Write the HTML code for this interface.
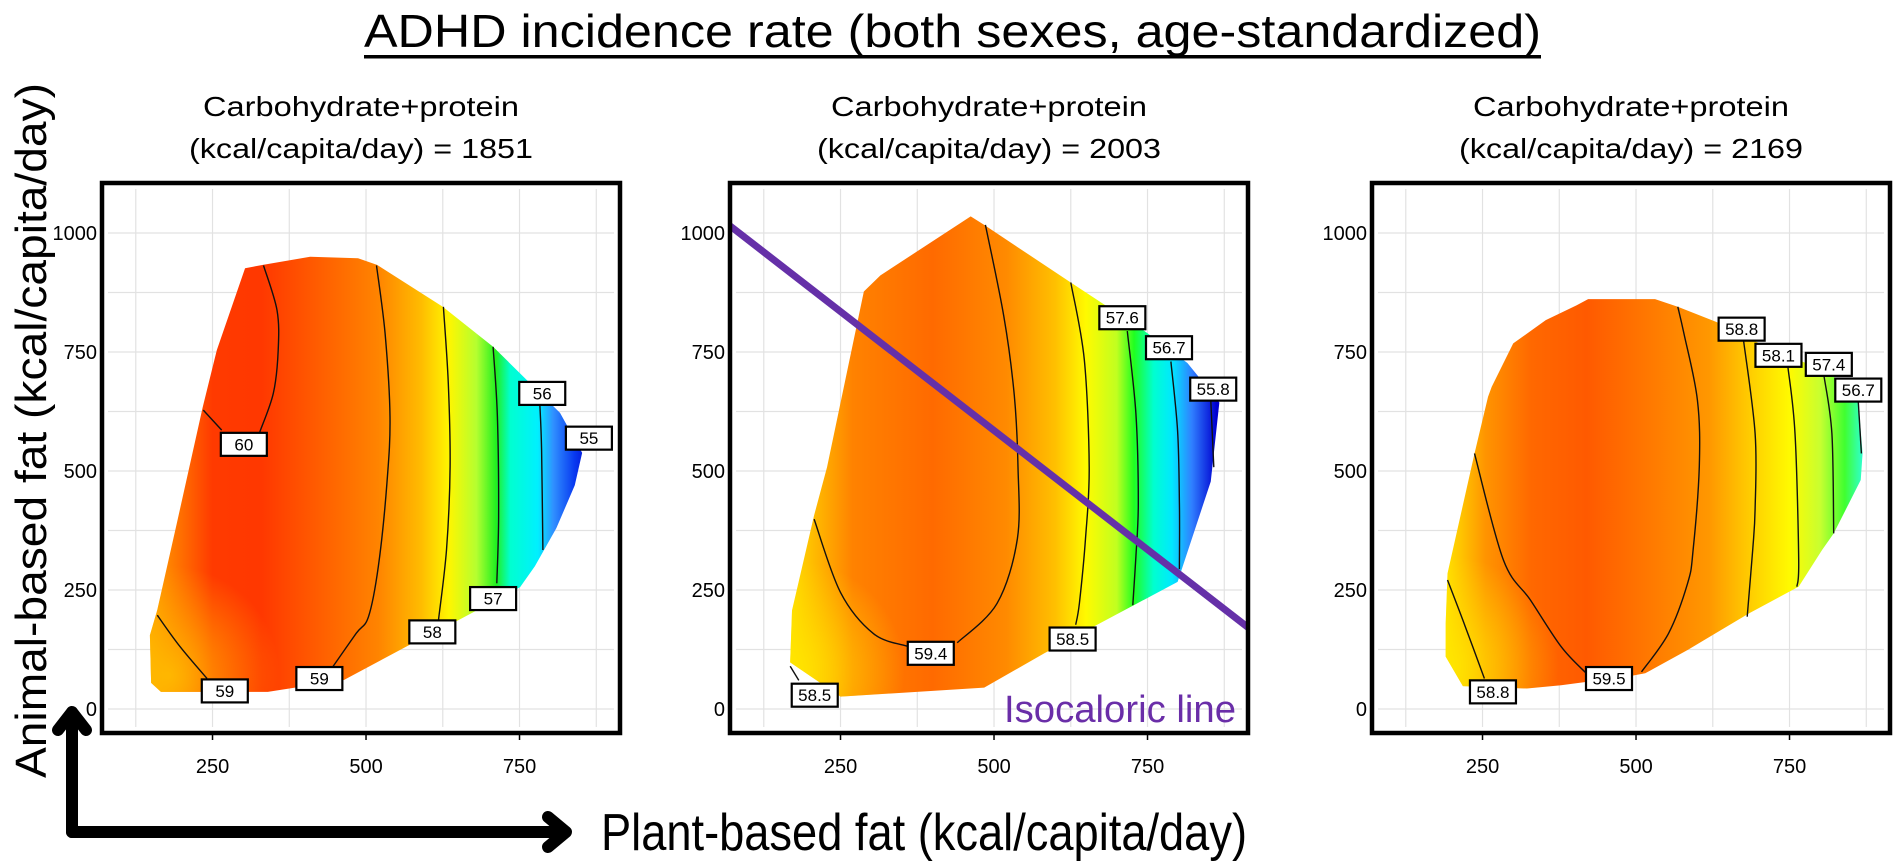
<!DOCTYPE html>
<html><head><meta charset="utf-8">
<style>
html,body{margin:0;padding:0;background:#fff;}
svg{display:block;font-family:"Liberation Sans",sans-serif;}
</style></head>
<body>
<svg id="chart" width="1902" height="866" viewBox="0 0 1902 866" xmlns="http://www.w3.org/2000/svg">
  <defs id="defs"></defs>
  <text x="364" y="47" font-size="46" textLength="1177" lengthAdjust="spacingAndGlyphs" fill="#000">ADHD incidence rate (both sexes, age-standardized)</text>
  <rect x="364" y="55" width="1177" height="3.5" fill="#000"/>
  <text transform="translate(46,778) rotate(-90)" font-size="44" textLength="695" lengthAdjust="spacingAndGlyphs" fill="#000">Animal-based fat  (kcal/capita/day)</text>
  <text x="601" y="850" font-size="52" textLength="646" lengthAdjust="spacingAndGlyphs" fill="#000">Plant-based fat (kcal/capita/day)</text>
  <g stroke="#000" stroke-width="12" fill="none" stroke-linecap="round" stroke-linejoin="round">
    <path d="M72,832 L72,712 M58,730 L72,712 L86,730"/>
    <path d="M72,832 L565,832 M548,817 L566,832 L548,847"/>
  </g>
  <g id="panels"></g>
</svg>
<script>
const xTicks = [250, 500, 750];
const yTicks = [0, 250, 500, 750, 1000];
const gridX = [125, 250, 375, 500, 625, 750, 875];
const gridY = [0, 125, 250, 375, 500, 625, 750, 875, 1000];
const panelCalories = [1851, 2003, 2169];

const panel1Boundary = [[303,926],[332,933],[409,950],[487,947],[518,933],[625,845],[707,761],[762,691],[816,622],[852,538],[840,470],[810,380],[775,300],[751,256],[651,187],[577,139],[464,61],[340,36],[166,36],[150,55],[148,155],[160,208],[192,391],[234,634],[257,754]];
const panel2Boundary = [[168,98],[171,207],[207,407],[228,508],[288,877],[315,911],[462,1035],[484,1017],[625,896],[745,794],[815,727],[867,644],[853,478],[799,267],[668,177],[582,117],[484,45],[250,26]];
const panel3Boundary = [[422,861],[531,861],[568,845],[631,813],[712,761],[778,726],[822,698],[862,649],[869,537],[866,481],[822,369],[803,334],[765,257],[684,201],[584,124],[515,75],[490,69],[378,50],[322,43],[218,48],[190,110],[190,180],[193,285],[237,537],[259,656],[265,677],[300,768],[353,817],[403,848]];

const panel1Contours = [
  [[333,932],[355,838],[357,754],[349,663],[327,582]],
  [[265,586],[235,628]],
  [[517,932],[531,789],[539,614],[534,474],[520,299],[504,194],[484,159],[446,89]],
  [[160,197],[197,131],[241,64]],
  [[626,845],[634,684],[637,509],[631,334],[618,187]],
  [[707,761],[714,614],[716,404],[713,264]],
  [[783,642],[786,544],[788,334]]
];
const panel2Contours = [
  [[207,399],[250,245],[304,158],[359,132]],
  [[440,139],[505,222],[538,358],[539,508],[533,659],[516,825],[486,1017]],
  [[625,896],[647,734],[655,508],[649,358],[639,222],[633,177]],
  [[717,794],[731,621],[735,433],[731,320],[726,218]],
  [[788,730],[799,584],[802,433],[802,294]],
  [[853,648],[858,508]],
  [[168,90],[182,60]]
];
const panel3Contours = [
  [[193,271],[222,173],[253,64]],
  [[237,537],[284,313],[328,229],[378,131],[419,75]],
  [[509,78],[553,159],[584,264],[593,334],[603,509],[600,649],[578,789],[568,845]],
  [[675,775],[694,579],[694,420],[690,334],[681,194]],
  [[747,722],[759,579],[765,313],[762,257]],
  [[806,701],[819,579],[822,369]],
  [[862,645],[867,537]]
];

const panel1Labels = [["60",301,556],["59",270,38],["59",424,64],["58",608,162],["57",707,232],["56",787,663],["55",863,569]];
const panel2Labels = [["57.6",709,822],["56.7",785,759],["55.8",857,672],["59.4",397,117],["58.5",628,147],["58.5",208,29]];
const panel3Labels = [["58.8",267,36],["59.5",456,64],["58.8",672,798],["58.1",732,743],["57.4",814,724],["56.7",862,670]];

const isoLine = [[70,1015],[914,171]];

const panel1Stops = [[150,'#ffa000'],[250,'#ff3a00'],[330,'#ff3800'],[420,'#ff5c00'],[520,'#ff8400'],[590,'#ffbc00'],[635,'#fff600'],[680,'#b4ff30'],[712,'#20f020'],[735,'#00ffd0'],[780,'#00f0ff'],[805,'#3090ff'],[840,'#0838f0'],[870,'#0000c8']];
const panel2Stops = [[165,'#ffe000'],[270,'#ff8200'],[400,'#ff6a00'],[520,'#ff8a00'],[600,'#ffc000'],[650,'#fffa00'],[700,'#c0ff20'],[728,'#20ff20'],[760,'#00ffd0'],[790,'#00e8ff'],[822,'#3080ff'],[862,'#0000d0']];
const panel3Stops = [[188,'#ffe400'],[255,'#ff9400'],[330,'#ff6800'],[420,'#ff5a00'],[520,'#ff7800'],[620,'#ff9800'],[690,'#ffd000'],[750,'#fffa00'],[800,'#c8ff30'],[840,'#40ff30'],[868,'#30ffc8']];

const panels = [
  {L:102, boundary:panel1Boundary, contours:panel1Contours, labels:panel1Labels, stops:panel1Stops, glow:[180,70,'#ffc000']},
  {L:730, boundary:panel2Boundary, contours:panel2Contours, labels:panel2Labels, stops:panel2Stops, glow:[175,80,'#ffe800'], iso:true},
  {L:1372, boundary:panel3Boundary, contours:panel3Contours, labels:panel3Labels, stops:panel3Stops, glow:[195,90,'#ffe800']}
];

const NS = 'http://www.w3.org/2000/svg';
const W = 518, TOP = 183, BOTTOM = 733;
function yS(v){ return 709 - v*0.476; }
function mk(tag, attrs, parent){
  const e = document.createElementNS(NS, tag);
  for (const k in attrs) e.setAttribute(k, attrs[k]);
  parent.appendChild(e);
  return e;
}
function smooth(pts){
  if (pts.length < 3) return 'M' + pts.map(p=>p[0].toFixed(1)+','+p[1].toFixed(1)).join(' L');
  let d = 'M' + pts[0][0].toFixed(1) + ',' + pts[0][1].toFixed(1);
  for (let i=0;i<pts.length-1;i++){
    const p0 = pts[Math.max(0,i-1)], p1 = pts[i], p2 = pts[i+1], p3 = pts[Math.min(pts.length-1,i+2)];
    const c1 = [p1[0]+(p2[0]-p0[0])/6, p1[1]+(p2[1]-p0[1])/6];
    const c2 = [p2[0]-(p3[0]-p1[0])/6, p2[1]-(p3[1]-p1[1])/6];
    d += ' C'+c1[0].toFixed(1)+','+c1[1].toFixed(1)+' '+c2[0].toFixed(1)+','+c2[1].toFixed(1)+' '+p2[0].toFixed(1)+','+p2[1].toFixed(1);
  }
  return d;
}
const defs = document.getElementById('defs');
const root = document.getElementById('panels');

panels.forEach((p, i) => {
  const xS = v => p.L + (v - 70) * 0.614;
  const g = mk('g', {}, root);
  
  

  const cx = p.L + W/2;
  const t1 = mk('text', {x:cx, y:116, 'font-size':28, 'text-anchor':'middle', textLength:316, lengthAdjust:'spacingAndGlyphs'}, g);
  
  
  t1.textContent = 'Carbohydrate+protein';
  const t2 = mk('text', {x:cx, y:158, 'font-size':28, 'text-anchor':'middle', textLength:344, lengthAdjust:'spacingAndGlyphs'}, g);
  
  
  t2.textContent = '(kcal/capita/day) = ' + panelCalories[i];

  const clip = mk('clipPath', {id:'clip'+i}, defs);
  mk('rect', {x:p.L, y:TOP, width:W, height:BOTTOM-TOP}, clip);

  const grid = mk('g', {stroke:'#e2e2e2', 'stroke-width':1.2}, g);
  
  
  gridX.forEach(v => mk('line', {x1:xS(v), x2:xS(v), y1:TOP+6, y2:BOTTOM-6}, grid));
  gridY.forEach(v => mk('line', {x1:p.L+6, x2:p.L+W-6, y1:yS(v), y2:yS(v)}, grid));

  const lg = mk('linearGradient', {id:'grad'+i, gradientUnits:'userSpaceOnUse', x1:xS(p.stops[0][0]), x2:xS(p.stops[p.stops.length-1][0]), y1:0, y2:0}, defs);
  const span = p.stops[p.stops.length-1][0] - p.stops[0][0];
  p.stops.forEach(s => mk('stop', {offset:((s[0]-p.stops[0][0])/span).toFixed(4), 'stop-color':s[1]}, lg));
  const rg = mk('radialGradient', {id:'glow'+i, gradientUnits:'userSpaceOnUse', cx:xS(p.glow[0]), cy:yS(p.glow[1]), r:110}, defs);
  mk('stop', {offset:0, 'stop-color':p.glow[2], 'stop-opacity':0.85}, rg);
  mk('stop', {offset:1, 'stop-color':p.glow[2], 'stop-opacity':0}, rg);

  const pts = p.boundary.map(q => [xS(q[0]), yS(q[1])]).map(q=>q.join(',')).join(' ');
  const surf = mk('polygon', {points:pts, fill:'url(#grad'+i+')'}, g);
  
  
  const glow = mk('polygon', {points:pts, fill:'url(#glow'+i+')'}, g);
  
  

  const cg = mk('g', {fill:'none', stroke:'#111', 'stroke-width':1.4}, g);
  
  
  p.contours.forEach(c => {
    const path = mk('path', {d:smooth(c.map(q => [xS(q[0]), yS(q[1])]))}, cg);
    
    
  });

  if (p.iso){
    const il = mk('line', {x1:xS(isoLine[0][0]), y1:yS(isoLine[0][1]), x2:xS(isoLine[1][0]), y2:yS(isoLine[1][1]), stroke:'#6530a8', 'stroke-width':7, 'clip-path':'url(#clip'+i+')'}, g);
    
    
    const it = mk('text', {x:p.L+W-12, y:722, 'font-size':38, 'text-anchor':'end', fill:'#6a2ea8', textLength:232, lengthAdjust:'spacingAndGlyphs'}, g);
    
    
    it.textContent = 'Isocaloric line';
  }

  p.labels.forEach(l => {
    const lx = xS(l[1]), ly = yS(l[2]);
    const box = mk('g', {}, g);
    
    
    mk('rect', {x:lx-23, y:ly-11.5, width:46, height:23, fill:'#fff', stroke:'#000', 'stroke-width':2.2}, box);
    const tt = mk('text', {x:lx, y:ly+6, 'font-size':17, 'text-anchor':'middle'}, box);
    tt.textContent = l[0];
  });

  const frame = mk('rect', {x:p.L, y:TOP, width:W, height:BOTTOM-TOP, fill:'none', stroke:'#000', 'stroke-width':4.5}, g);
  
  

  yTicks.forEach(v => {
    const t = mk('text', {x:p.L-5, y:yS(v)+7, 'font-size':20, 'text-anchor':'end'}, g);
    
    
    t.textContent = v;
  });
  xTicks.forEach(v => {
    mk('line', {x1:xS(v), x2:xS(v), y1:BOTTOM+2, y2:BOTTOM+7, stroke:'#000', 'stroke-width':1.5}, g);
    const t = mk('text', {x:xS(v), y:773, 'font-size':20, 'text-anchor':'middle'}, g);
    
    
    t.textContent = v;
  });
});
</script>
</body></html>
